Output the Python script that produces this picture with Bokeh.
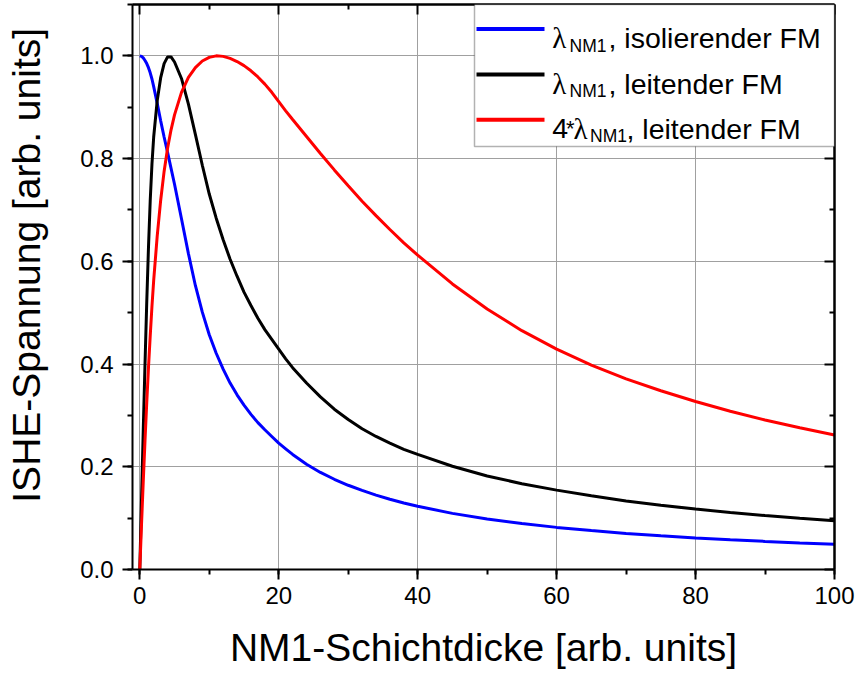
from bokeh.plotting import figure
from bokeh.models import (Range1d, LinearAxis, SingleIntervalTicker, FixedTicker,
                          Label, BoxAnnotation, NumeralTickFormatter, Grid)
from bokeh.embed import file_html
from bokeh.resources import INLINE

# ---------------- data ----------------
thickness = [0, 0.25, 0.5, 0.75, 1, 1.25, 1.5, 1.75, 2,
             2.5, 3, 3.5, 4, 4.5, 5,
             6, 7, 8, 9, 10, 11, 12, 13, 14, 15, 16, 17, 18, 19, 20, 21, 22,
             24, 26, 28, 30, 32, 34, 36, 38, 40,
             45, 50, 55, 60, 65, 70, 75, 80, 85, 90, 95, 100]

v_isolating = [1.0, 0.999, 0.996, 0.991, 0.985, 0.977, 0.967, 0.955, 0.940,
               0.908, 0.874, 0.842, 0.812, 0.781, 0.750,
               0.683, 0.615, 0.553, 0.501, 0.457, 0.421, 0.390, 0.363, 0.340,
               0.320, 0.302, 0.286, 0.272, 0.259, 0.246, 0.235, 0.224,
               0.205, 0.189, 0.1757, 0.164, 0.154, 0.1447, 0.1367, 0.1295, 0.123,
               0.1093, 0.0984, 0.0895, 0.082, 0.0757, 0.0703, 0.0656, 0.0615,
               0.0579, 0.0547, 0.0518, 0.0492]

v_conducting = [0.0, 0.138, 0.272, 0.400, 0.520, 0.627, 0.718, 0.789, 0.842,
                0.912, 0.957, 0.985, 0.998, 0.998, 0.988,
                0.956, 0.906, 0.847, 0.787, 0.731, 0.684, 0.642, 0.604, 0.571,
                0.540, 0.514, 0.489, 0.467, 0.448, 0.429, 0.410, 0.393,
                0.363, 0.336, 0.312, 0.292, 0.274, 0.259, 0.246, 0.234, 0.224,
                0.201, 0.182, 0.167, 0.1545, 0.1435, 0.1335, 0.125, 0.1176,
                0.111, 0.105, 0.0998, 0.095]

v_conducting_4l = [0.0, 0.088, 0.172, 0.251, 0.325, 0.393, 0.455, 0.512, 0.563,
                   0.648, 0.718, 0.775, 0.820, 0.856, 0.885,
                   0.929, 0.958, 0.977, 0.990, 0.997, 1.0, 0.999, 0.995, 0.989,
                   0.981, 0.971, 0.959, 0.945, 0.929, 0.911, 0.893, 0.876,
                   0.843, 0.810, 0.778, 0.747, 0.717, 0.689, 0.662, 0.636, 0.612,
                   0.556, 0.507, 0.465, 0.429, 0.398, 0.371, 0.348, 0.327,
                   0.308, 0.291, 0.276, 0.262]

series_colors = ["#0000FF", "#000000", "#FF0000"]
legend_prefix = ["", "", "4"]
legend_lambda = ["λ", "λ", "λ"]
legend_sub = ["NM1", "NM1", "NM1"]
legend_rest = [", isolierender FM", ", leitender FM", ", leitender FM"]

x_major_ticks = [0, 20, 40, 60, 80, 100]
x_minor_ticks = [10, 30, 50, 70, 90]
y_major_ticks = [0.0, 0.2, 0.4, 0.6, 0.8, 1.0]
y_minor_ticks = [0.1, 0.3, 0.5, 0.7, 0.9]

x_title = "NM1-Schichtdicke [arb. units]"
y_title = "ISHE-Spannung [arb. units]"

FONT = "Liberation Sans"

# ---------------- figure ----------------
p = figure(width=857, height=675, output_backend="svg", toolbar_location=None,
           x_range=Range1d(-1.05, 100), y_range=Range1d(0, 1.1),
           x_axis_type=None, y_axis_type=None,
           min_border_left=132, min_border_right=23,
           min_border_top=4, min_border_bottom=106,
           background_fill_color="white", border_fill_color="white")
p.outline_line_color = None

xt = SingleIntervalTicker(interval=20, num_minor_ticks=2)
yt = SingleIntervalTicker(interval=0.2, num_minor_ticks=2)

p.add_layout(Grid(dimension=0, ticker=xt, grid_line_color="#a0a0a0",
                  grid_line_width=1))
p.add_layout(Grid(dimension=1, ticker=yt, grid_line_color="#a0a0a0",
                  grid_line_width=1))


def style(ax):
    ax.axis_line_color = "black"
    ax.axis_line_width = 2
    ax.major_tick_line_color = "black"
    ax.major_tick_line_width = 2
    ax.minor_tick_line_color = "black"
    ax.minor_tick_line_width = 2
    ax.major_label_text_font = FONT
    ax.major_label_text_font_size = "24px"
    ax.major_label_text_color = "black"
    ax.axis_label_text_font = FONT
    ax.axis_label_text_font_style = "normal"
    ax.axis_label_text_font_size = "39px"
    ax.axis_label_text_color = "black"


bottom = LinearAxis(ticker=xt, axis_label=x_title)
style(bottom)
bottom.major_tick_in, bottom.major_tick_out = 0, 10
bottom.minor_tick_in, bottom.minor_tick_out = 0, 5
bottom.major_label_standoff = 7
bottom.axis_label_standoff = 19
p.add_layout(bottom, "below")

# leading no-break spaces lift the centred title slightly, as in the reference
left = LinearAxis(ticker=yt, formatter=NumeralTickFormatter(format="0.0"),
                  axis_label="\u00a0\u00a0\u00a0\u00a0" + y_title)
style(left)
left.major_tick_in, left.major_tick_out = 0, 10
left.minor_tick_in, left.minor_tick_out = 0, 5
left.major_label_standoff = 9
left.axis_label_standoff = 29
p.add_layout(left, "left")

# mirrored inward ticks (no labels) on top and right
for side, majors, minors in (("above", x_major_ticks, x_minor_ticks),
                             ("right", y_major_ticks, y_minor_ticks)):
    for ticks, length in ((majors, 10), (minors, 5)):
        ax = LinearAxis(ticker=FixedTicker(ticks=[], minor_ticks=ticks))
        style(ax)
        ax.major_tick_in, ax.major_tick_out = 0, 0
        ax.minor_tick_in, ax.minor_tick_out = length, 0
        ax.major_label_standoff = 0
        p.add_layout(ax, side)

# ---------------- curves ----------------
for ys, c in zip([v_isolating, v_conducting, v_conducting_4l], series_colors):
    p.line(thickness, ys, line_color=c, line_width=3)

# ---------------- legend (frame-relative screen units) ----------------
p.add_layout(BoxAnnotation(left=342, right=702, top=565, bottom=423,
                           left_units="screen", right_units="screen",
                           top_units="screen", bottom_units="screen",
                           fill_color="white", fill_alpha=1,
                           line_color="black", line_width=1.5))

row_base = [531.3, 485.7, 440.7]
row_line = [540.5, 495.0, 449.7]
for i in range(3):
    p.add_layout(BoxAnnotation(left=344, right=412, bottom=row_line[i] - 2,
                               top=row_line[i] + 2,
                               left_units="screen", right_units="screen",
                               top_units="screen", bottom_units="screen",
                               fill_color=series_colors[i], fill_alpha=1,
                               line_alpha=0))
    if legend_prefix[i]:
        xs_lam, xs_sub, xs_rest = 441, 457.5, 494
        p.add_layout(Label(x=419.7, y=row_base[i], x_units="screen",
                           y_units="screen", text=legend_prefix[i],
                           text_font=FONT, text_font_size="28.5px",
                           text_baseline="alphabetic", text_color="black"))
        p.add_layout(Label(x=433.5, y=row_base[i] + 0.5, x_units="screen",
                           y_units="screen", text="*",
                           text_font=FONT, text_font_size="22px",
                           text_baseline="alphabetic", text_color="black"))
    else:
        xs_lam, xs_sub, xs_rest = 419.7, 437, 476
    p.add_layout(Label(x=xs_lam, y=row_base[i], x_units="screen",
                       y_units="screen", text=legend_lambda[i],
                       text_font="Liberation Serif", text_font_size="29px",
                       text_baseline="alphabetic", text_color="black"))
    p.add_layout(Label(x=xs_sub, y=row_base[i] - 7.3, x_units="screen",
                       y_units="screen", text=legend_sub[i],
                       text_font=FONT, text_font_size="17.5px",
                       text_baseline="alphabetic", text_color="black"))
    p.add_layout(Label(x=xs_rest, y=row_base[i], x_units="screen",
                       y_units="screen", text=legend_rest[i],
                       text_font=FONT, text_font_size="28.5px",
                       text_baseline="alphabetic", text_color="black"))

open("out.html", "w").write(file_html(p, INLINE))
